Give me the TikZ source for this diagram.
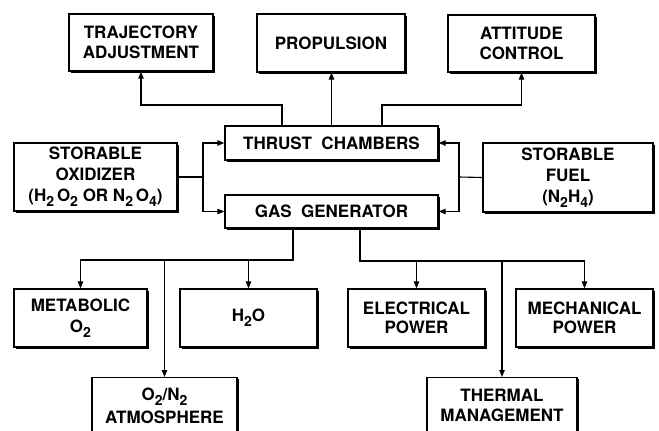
\documentclass[tikz,border=0pt]{standalone}
\usepackage{fontspec}
\setmainfont{TeX Gyre Heros}
\usetikzlibrary{arrows.meta,shadows}
\newcommand{\sbs}[1]{\raisebox{-0.55ex}{\fontsize{14}{14}\selectfont #1}}
\begin{document}
\begin{tikzpicture}[x=1pt,y=-1pt,
  lbl/.style={font=\fontsize{17}{19.5}\selectfont\bfseries, align=center},
  box/.style={lbl, draw=black, line width=1.3pt, fill=white, inner sep=0pt,
    drop shadow={shadow xshift=1.6pt, shadow yshift=-1.6pt, fill=black, opacity=1}},
  arr/.style={line width=1.1pt, -{Triangle[length=7pt,width=5.5pt]}},
  ln/.style={line width=1.1pt}]
\path[use as bounding box] (0,0) rectangle (659,431);
\clip (0,0) rectangle (659,431);
\node[box, minimum width=144pt, minimum height=57pt] (traj) at (141,42.5) {TRAJECTORY\\ADJUSTMENT};
\node[box, minimum width=148pt, minimum height=58pt] (prop) at (331,43) {PROPULSION};
\node[box, minimum width=147pt, minimum height=57pt] (att) at (521.5,43.5) {ATTITUDE\\CONTROL};
\node[box, minimum width=213pt, minimum height=34pt] (thrust) at (331.5,143) {THRUST\ \ CHAMBERS};
\node[box, minimum width=213pt, minimum height=33pt] (gas) at (331.5,211.5) {GAS\ \ GENERATOR};
\node[box, minimum width=163pt, minimum height=68pt, font=\fontsize{17}{21}\selectfont\bfseries] (ox) at (95.5,177) {STORABLE\\OXIDIZER\\(H\sbs{2}\,O\sbs{2} OR N\sbs{2}\,O\sbs{4})};
\node[box, minimum width=170pt, minimum height=69pt, font=\fontsize{17}{21}\selectfont\bfseries] (fuel) at (568,177.5) {STORABLE\\FUEL\\(N\sbs{2}H\sbs{4})};
\node[box, minimum width=133pt, minimum height=58pt] (metab) at (80.5,318) {METABOLIC\\[1pt]O\sbs{2}};
\node[box, minimum width=137pt, minimum height=58pt] (h2o) at (248.5,318) {H\sbs{2}O};
\node[box, minimum width=137pt, minimum height=58pt] (elec) at (416.5,318) {ELECTRICAL\\POWER};
\node[box, minimum width=137pt, minimum height=58pt] (mech) at (584.5,318) {MECHANICAL\\POWER};
\node[box, minimum width=145pt, minimum height=66pt, anchor=north] (atm) at (164.5,377) {};
\node[lbl, anchor=north] (atmt) at (164.5,384) {O\sbs{2}/N\sbs{2}\\[4pt]ATMOSPHERE};
\node[box, minimum width=150pt, minimum height=66pt, anchor=north] (therm) at (502,377) {};
\node[lbl, anchor=north] (thermt) at (502,386) {THERMAL\\MANAGEMENT};
% top connectors
\coordinate (tl) at (282,105);
\coordinate (tr) at (382,105);
\draw[arr] (thrust.north -| tl) -- (tl) -| (traj.south);
\draw[arr] (thrust.north) -- (thrust.north |- prop.south);
\draw[arr] (thrust.north -| tr) -- (tr) -| (att.south);
% oxidizer
\coordinate (ol) at (203,177);
\draw[ln] (ox.east) -- (ol);
\draw[arr] (ol) |- (thrust.west);
\draw[arr] (ol) |- (gas.west);
% fuel
\coordinate (fr) at (459,177);
\draw[ln] (fuel.west) -- (fr);
\draw[arr] (fr) |- (thrust.east);
\draw[arr] (fr) |- (gas.east);
% bottom left
\coordinate (bl) at (293,260);
\draw[arr] (gas.south -| bl) -- (bl) -| (metab.north);
\draw[arr] (bl -| h2o.north) -- (h2o.north);
\draw[arr] (bl -| atm.north) -- (atm.north);
% bottom right
\coordinate (br) at (360,261);
\draw[arr] (gas.south -| br) -- (br) -| (mech.north);
\draw[arr] (br -| elec.north) -- (elec.north);
\draw[arr] (br -| therm.north) -- (therm.north);
\end{tikzpicture}
\end{document}
